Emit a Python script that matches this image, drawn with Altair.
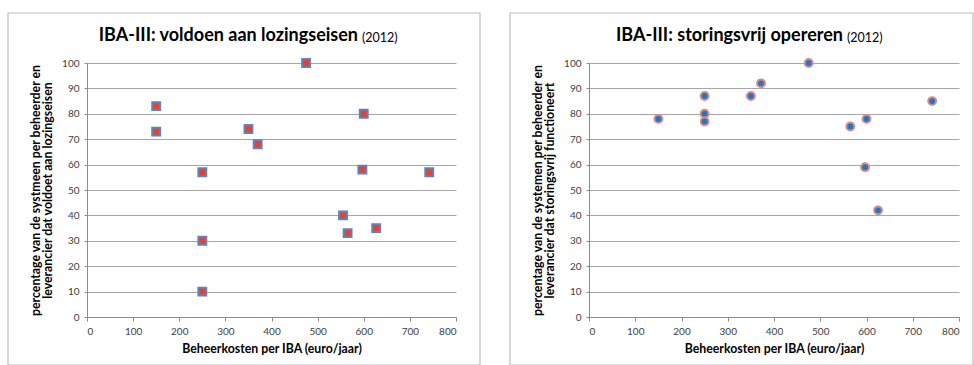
import altair as alt
import pandas as pd

# Left panel: voldoen aan lozingseisen
kosten_l = [150, 150, 250, 250, 250, 350, 370, 475, 600, 597, 555, 565, 627, 742]
pct_l = [83, 73, 57, 30, 10, 74, 68, 100, 80, 58, 40, 33, 35, 57]

# Right panel: storingsvrij opereren
kosten_r = [150, 250, 250, 250, 350, 372, 475, 565, 600, 597, 625, 742]
pct_r = [78, 87, 80, 77, 87, 92, 100, 75, 78, 59, 42, 85]

x_ticks = [0, 100, 200, 300, 400, 500, 600, 700, 800]
y_ticks = [0, 10, 20, 30, 40, 50, 60, 70, 80, 90, 100]

FONT = "Lato"
W_L, W_R, H = 369, 370, 254


def panel(kosten, pct, width, ytitle, shape, fill, stroke, title_bold, tb_right, ty_left, border_x2):
    df = pd.DataFrame({"kosten": kosten, "pct": pct})
    base = alt.Chart(df)
    border = alt.Chart(pd.DataFrame({"a": [0]})).mark_rect(
        filled=False, stroke="#BDBDBD", strokeWidth=1.2
    ).encode(
        x=alt.value(-79), x2=alt.value(border_x2),
        y=alt.value(-50), y2=alt.value(H + 48),
    )
    pts = base.mark_point(
        shape=shape, filled=True, fill=fill, stroke=stroke,
        strokeWidth=2, size=62, opacity=1
    ).encode(
        x=alt.X("kosten:Q", scale=alt.Scale(domain=[0, 800], nice=False),
                axis=alt.Axis(values=x_ticks, title="Beheerkosten per IBA (euro/jaar)",
                              grid=False, tickSize=4, labelPadding=5,
                              titlePadding=6)),
        y=alt.Y("pct:Q", scale=alt.Scale(domain=[0, 100], nice=False),
                axis=alt.Axis(values=y_ticks, title=ytitle, grid=True,
                              tickSize=3, labelPadding=5, titlePadding=7,
                              titleLineHeight=12.5)),
    )
    t1 = alt.Chart(pd.DataFrame({"t": [title_bold]})).mark_text(
        font=FONT, fontSize=18, fontWeight="bold", align="right",
        baseline="middle", color="#000000"
    ).encode(text="t:N", x=alt.value(tb_right), y=alt.value(-27))
    t2 = alt.Chart(pd.DataFrame({"t": ["(2012)"]})).mark_text(
        font=FONT, fontSize=12.5, align="left", baseline="middle", color="#000000"
    ).encode(text="t:N", x=alt.value(ty_left), y=alt.value(-25))
    return alt.layer(border, pts, t1, t2).properties(width=width, height=H)


left = panel(kosten_l, pct_l, W_L,
             ["percentage van de systmeen per beheerder en",
              "leverancier dat voldoet aan lozingseisen"],
             "square", "#E8412C", "#5B84C2",
             "IBA-III: voldoen aan lozingseisen", 271, 275, 393)
right = panel(kosten_r, pct_r, W_R,
              ["percentage van de systemen per beheerder en",
               "leverancier dat storingsvrij functioneert"],
              "circle", "#1F78C1", "#D98A84",
              "IBA-III: storingsvrij opereren", 254, 258, 384)

chart = alt.hconcat(left, right, spacing=133, bounds="flush").properties(
    padding={"left": 7, "top": 12, "right": 0, "bottom": 0},
    background="white"
).configure_view(stroke=None).configure_axis(
    labelFont=FONT, labelFontSize=10, labelColor="#404040",
    titleFont=FONT, titleFontSize=12.3, titleFontWeight="bold", titleColor="#000000",
    domainColor="#8C8C8C", tickColor="#8C8C8C", gridColor="#A6A6A6",
    gridWidth=1, domainWidth=1
)

chart.save("out.html", embed_options={"renderer": "svg", "actions": False})
